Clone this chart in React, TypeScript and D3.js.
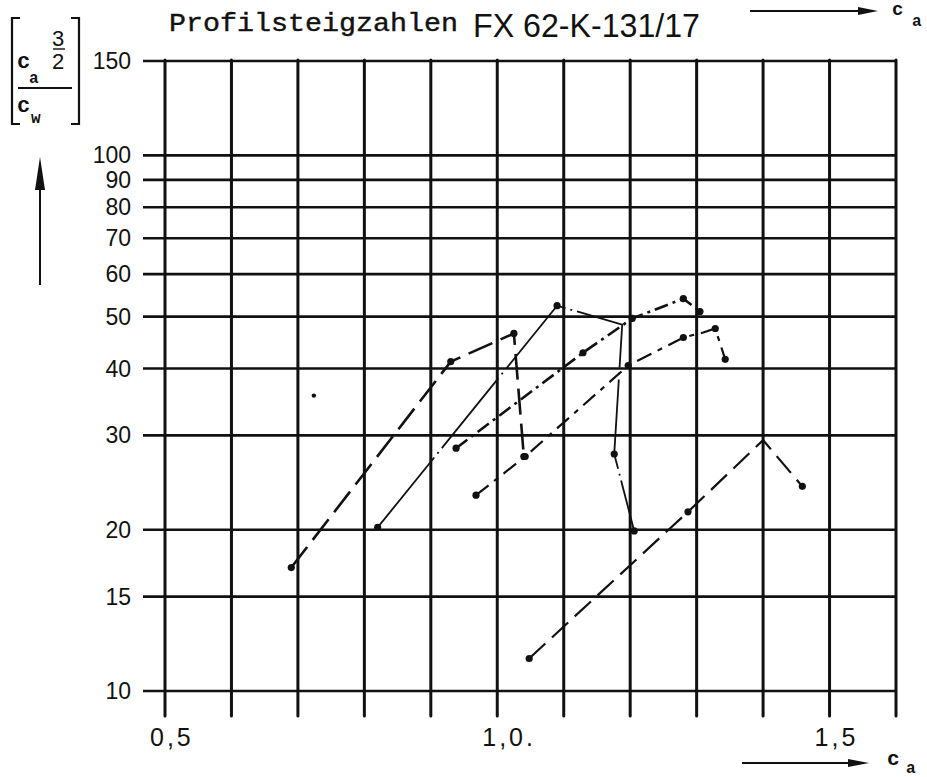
import React from 'react';
import * as d3 from 'd3';

// Grid / axis values
const yGridValues = [10, 15, 20, 30, 40, 50, 60, 70, 80, 90, 100, 150];
const yLabelValues = [10, 15, 20, 30, 40, 50, 60, 70, 80, 90, 100, 150];
const xGridValues = [0.5, 0.6, 0.7, 0.8, 0.9, 1.0, 1.1, 1.2, 1.3, 1.4, 1.5, 1.6];
const xLabelValues = [0.5, 1.0, 1.5];
const xLabelTexts = ['0,5', '1,0.', '1,5'];

// Measured curves: lift coefficient c_a vs. climb number c_a^(3/2)/c_w
const s1Ca = [0.69, 0.93, 1.025, 1.04];
const s1Val = [17.0, 41.2, 46.5, 27.4];
const s1Dot = [1, 1, 1, 1];

const s2Ca = [0.82, 1.09, 1.188, 1.176, 1.206];
const s2Val = [20.2, 52.4, 48.3, 27.7, 19.9];
const s2Dot = [1, 1, 0, 1, 1];

const s3Ca = [0.938, 1.129, 1.203, 1.28, 1.305];
const s3Val = [28.4, 42.8, 49.6, 54.0, 51.1];
const s3Dot = [1, 1, 1, 1, 1];

const s4Ca = [0.968, 1.042, 1.197, 1.28, 1.31, 1.328, 1.343];
const s4Val = [23.2, 27.4, 40.5, 45.7, 46.7, 47.5, 41.6];
const s4Dot = [1, 1, 1, 1, 0, 1, 1];

const s5Ca = [1.048, 1.287, 1.4, 1.459];
const s5Val = [11.5, 21.6, 29.4, 24.1];
const s5Dot = [1, 1, 0, 1];

const loneCa = [0.724];
const loneVal = [35.6];

type Pt = { ca: number; v: number; dot: number };
const zip = (ca: number[], v: number[], dot: number[]): Pt[] =>
  ca.map((c, i) => ({ ca: c, v: v[i], dot: dot[i] }));

const series = [
  { pts: zip(s1Ca, s1Val, s1Dot), dash: '26,9', w: 2.6 },
  { pts: zip(s2Ca, s2Val, s2Dot), dash: '90,5,2,5', w: 1.8 },
  { pts: zip(s3Ca, s3Val, s3Dot), dash: '14,5,3,5', w: 2.6 },
  { pts: zip(s4Ca, s4Val, s4Dot), dash: '16,7,5,7', w: 2.2 },
  { pts: zip(s5Ca, s5Val, s5Dot), dash: '22,9', w: 2.2 },
];

const INK = '#111';
const NUM_FONT = '"Liberation Sans", Arial, sans-serif';
const MONO_FONT = '"Liberation Mono", "DejaVu Sans Mono", monospace';

export default function App() {
  const x = d3.scaleLinear().domain([0.5, 1.6]).range([165, 896]);
  const y = d3.scaleLog().domain([10, 150]).range([691, 61]);

  const line = d3
    .line<Pt>()
    .x((d) => x(d.ca))
    .y((d) => y(d.v));

  const gridLeft = 143;
  const gridRight = x(1.6);
  const gridTop = y(150);
  const gridBottom = y(10) + 25;

  return (
    <svg
      width={927}
      height={777}
      style={{ position: 'absolute', left: 0, top: 0, background: '#fff', display: 'block' }}
    >
      <rect x={0} y={0} width={927} height={777} fill="#fff" />

      {/* horizontal grid */}
      {yGridValues.map((v) => (
        <line
          key={'h' + v}
          x1={gridLeft}
          x2={gridRight}
          y1={y(v)}
          y2={y(v)}
          stroke={INK}
          strokeWidth={2.6}
        />
      ))}
      {/* vertical grid */}
      {xGridValues.map((v) => (
        <line
          key={'v' + v}
          x1={x(v)}
          x2={x(v)}
          y1={gridTop - 1}
          y2={gridBottom}
          stroke={INK}
          strokeWidth={3}
          strokeLinecap="round"
        />
      ))}

      {/* y tick labels */}
      {yLabelValues.map((v) => (
        <text
          key={'yl' + v}
          x={131}
          y={y(v)}
          dy="0.35em"
          textAnchor="end"
          fontFamily={NUM_FONT}
          fontSize={23}
          fill={INK}
        >
          {v}
        </text>
      ))}

      {/* x tick labels */}
      {xLabelValues.map((v, i) => (
        <text
          key={'xl' + v}
          x={x(v) - 15}
          y={746}
          fontFamily={NUM_FONT}
          fontSize={25}
          letterSpacing={3}
          fill={INK}
        >
          {xLabelTexts[i]}
        </text>
      ))}

      {/* curves */}
      {series.map((s, i) => (
        <g key={'s' + i}>
          <path
            d={line(s.pts) || ''}
            fill="none"
            stroke={INK}
            strokeWidth={s.w}
            strokeDasharray={s.dash}
          />
          {s.pts
            .filter((p) => p.dot)
            .map((p, j) => (
              <circle key={j} cx={x(p.ca)} cy={y(p.v)} r={3.6} fill={INK} />
            ))}
        </g>
      ))}
      {loneCa.map((c, i) => (
        <circle key={'lone' + i} cx={x(c)} cy={y(loneVal[i])} r={2.2} fill={INK} />
      ))}

      {/* title */}
      <text
        x={169}
        y={31}
        fontFamily={MONO_FONT}
        fontSize={25}
        textLength={289}
        lengthAdjust="spacingAndGlyphs"
        fill={INK}
        stroke={INK}
        strokeWidth={0.4}
      >
        Profilsteigzahlen
      </text>
      <text
        x={473}
        y={37}
        fontFamily={NUM_FONT}
        fontSize={33}
        textLength={227}
        lengthAdjust="spacingAndGlyphs"
        fill={INK}
      >
        FX 62-K-131/17
      </text>

      {/* top-right c_a arrow */}
      <line x1={750} x2={862} y1={11} y2={11} stroke={INK} strokeWidth={2} />
      <polygon points="858,7 878,11 858,15" fill={INK} />
      <text x={892} y={15} fontFamily={MONO_FONT} fontWeight="bold" fontSize={19} fill={INK}>
        c
      </text>
      <text x={912} y={26} fontFamily={MONO_FONT} fontWeight="bold" fontSize={16} fill={INK}>
        a
      </text>

      {/* bottom-right c_a arrow */}
      <line x1={742} x2={852} y1={763} y2={763} stroke={INK} strokeWidth={2} />
      <polygon points="848,759 869,763 848,767" fill={INK} />
      <text x={887} y={765} fontFamily={MONO_FONT} fontWeight="bold" fontSize={21} fill={INK}>
        c
      </text>
      <text x={906} y={773} fontFamily={MONO_FONT} fontWeight="bold" fontSize={16} fill={INK}>
        a
      </text>

      {/* y-axis quantity: [ c_a^(3/2) / c_w ] */}
      <g fill="none" stroke={INK} strokeWidth={2.2}>
        <path d="M20,18 L12,18 L12,124 L20,124" />
        <path d="M71,18 L79,18 L79,124 L71,124" />
        <line x1={18} x2={72} y1={88} y2={88} />
        <line x1={53} x2={65} y1={49} y2={49} strokeWidth={1.4} />
      </g>
      <text x={17} y={68} fontFamily={MONO_FONT} fontWeight="bold" fontSize={22} fill={INK}>
        c
      </text>
      <text x={29} y={83} fontFamily={MONO_FONT} fontWeight="bold" fontSize={16} fill={INK}>
        a
      </text>
      <text x={52} y={46} fontFamily={NUM_FONT} fontSize={22} fill={INK}>
        3
      </text>
      <text x={52} y={69} fontFamily={NUM_FONT} fontSize={22} fill={INK}>
        2
      </text>
      <text x={17} y={112} fontFamily={MONO_FONT} fontWeight="bold" fontSize={22} fill={INK}>
        c
      </text>
      <text x={31} y={123} fontFamily={MONO_FONT} fontWeight="bold" fontSize={16} fill={INK}>
        w
      </text>

      {/* upward arrow */}
      <line x1={40} x2={40} y1={285} y2={180} stroke={INK} strokeWidth={2} />
      <polygon points="35,190 40,157 45,190" fill={INK} />
    </svg>
  );
}
